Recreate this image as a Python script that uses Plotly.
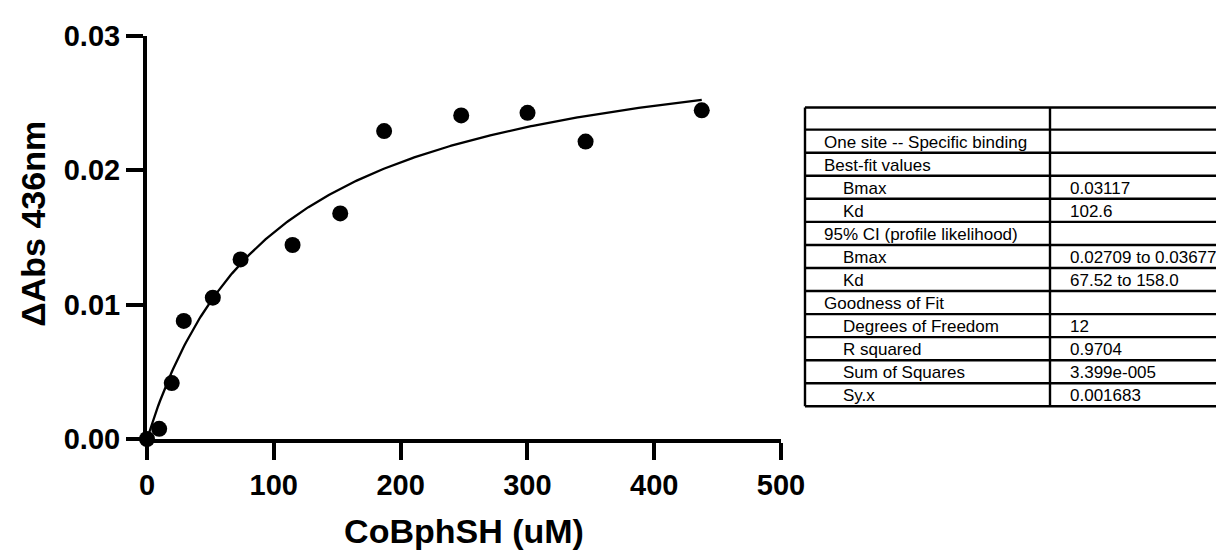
import plotly.graph_objects as go
import numpy as np

# ---------------- data ----------------
conc_uM = [0, 9.6, 19.5, 29.0, 51.9, 73.8, 114.8, 152.4, 187.0, 247.8, 300.1, 345.9, 437.5]
delta_abs = [0.0, 0.00076, 0.00416, 0.00879, 0.01052, 0.01337, 0.01444, 0.01679,
             0.02292, 0.02409, 0.02428, 0.02214, 0.02447]

# one-site specific binding fit parameters (from table)
bmax = 0.03117
kd = 102.6

x_ticks = [0, 100, 200, 300, 400, 500]
y_ticks = [0.00, 0.01, 0.02, 0.03]

table_left = ["", "One site -- Specific binding", "Best-fit values", "Bmax", "Kd",
              "95% CI (profile likelihood)", "Bmax", "Kd", "Goodness of Fit",
              "Degrees of Freedom", "R squared", "Sum of Squares", "Sy.x"]
table_indent = [0, 0, 0, 1, 1, 0, 1, 1, 0, 1, 1, 1, 1]
table_right = ["", "", "", "0.03117", "102.6", "", "0.02709 to 0.03677", "67.52 to 158.0",
               "", "12", "0.9704", "3.399e-005", "0.001683"]

# ---------------- layout geometry (window pixels) ----------------
OFF = 8                      # default page body margin
W, H = 1224 - OFF, 557 - OFF
PL, PR, PT, PB = 147, 781, 25, 448   # plot area in window pixels
FONT = "Liberation Sans, Arial, Helvetica, sans-serif"


def px_x(px):
    return (px - PL) / (PR - PL)


def px_y(py):
    return (PB - py) / (PB - PT)


# fitted curve
xfit = np.linspace(0, max(conc_uM), 300)
yfit = bmax * xfit / (kd + xfit)

fig = go.Figure()
fig.add_trace(go.Scatter(x=xfit, y=yfit, mode="lines",
                         line=dict(color="black", width=2.3),
                         cliponaxis=False, hoverinfo="skip"))
fig.add_trace(go.Scatter(x=conc_uM, y=delta_abs, mode="markers",
                         marker=dict(color="black", size=16, symbol="circle"),
                         cliponaxis=False))

# ---------------- table ----------------
shapes = []
annotations = []
tbl_left, tbl_div, tbl_right = 805, 1050, 1260
top = 100
row_h0 = 23.3
row_h = 24.2
bounds = [top, top + row_h0]
for i in range(len(table_left) - 1):
    bounds.append(bounds[-1] + row_h)

lw = 2.4
for b in bounds:
    shapes.append(dict(type="line", xref="paper", yref="paper",
                       x0=px_x(tbl_left), x1=px_x(tbl_right), y0=px_y(b), y1=px_y(b),
                       line=dict(color="black", width=lw)))
for xv in (tbl_left, tbl_div):
    shapes.append(dict(type="line", xref="paper", yref="paper",
                       x0=px_x(xv), x1=px_x(xv), y0=px_y(bounds[0]), y1=px_y(bounds[-1]),
                       line=dict(color="black", width=lw)))

for i, (lt, ind, rt) in enumerate(zip(table_left, table_indent, table_right)):
    yc = (bounds[i] + bounds[i + 1]) / 2 + 1
    if lt:
        annotations.append(dict(xref="paper", yref="paper",
                                x=px_x(841 if ind else 822), y=px_y(yc),
                                xanchor="left", yanchor="middle", showarrow=False,
                                text=lt, font=dict(family=FONT, size=17, color="black")))
    if rt:
        annotations.append(dict(xref="paper", yref="paper",
                                x=px_x(1068), y=px_y(yc),
                                xanchor="left", yanchor="middle", showarrow=False,
                                text=rt, font=dict(family=FONT, size=17, color="black")))

# y-axis title placed explicitly
annotations.append(dict(xref="paper", yref="paper", x=px_x(33), y=px_y(222),
                        xanchor="center", yanchor="middle", showarrow=False, textangle=-90,
                        text="<b>ΔAbs 436nm</b>",
                        font=dict(family=FONT, size=34, color="black")))

fig.update_layout(
    width=W, height=H,
    margin=dict(l=PL - OFF, r=W - (PR - OFF), t=PT - OFF, b=H - (PB - OFF), pad=0),
    paper_bgcolor="white", plot_bgcolor="white",
    showlegend=False,
    font=dict(family=FONT, color="black"),
    shapes=shapes,
    annotations=annotations,
    xaxis=dict(range=[0, 500], tickvals=x_ticks, ticktext=[str(v) for v in x_ticks],
               showgrid=False, zeroline=False, showline=True, linecolor="black", linewidth=4,
               ticks="outside", ticklen=17, tickwidth=4, tickcolor="black",
               tickfont=dict(family=FONT, size=29, color="black", weight="bold"),
               title=dict(text="<b>CoBphSH (uM)</b>",
                          font=dict(family=FONT, size=34, color="black"), standoff=20)),
    yaxis=dict(range=[0, 0.03], tickvals=y_ticks, ticktext=[f"{v:.2f}" for v in y_ticks],
               showgrid=False, zeroline=False, showline=True, linecolor="black", linewidth=4,
               ticks="outside", ticklen=17, tickwidth=4, tickcolor="black",
               tickfont=dict(family=FONT, size=29, color="black", weight="bold")),
)

fig.write_html("out.html")
